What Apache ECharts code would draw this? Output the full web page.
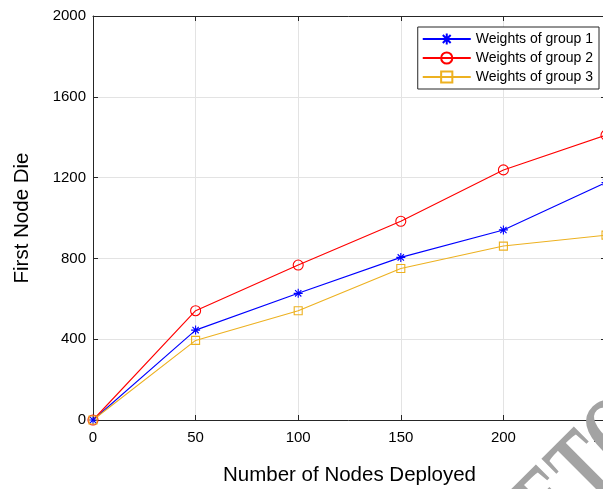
<!DOCTYPE html>
<html>
<head>
<meta charset="utf-8">
<script src="https://cdn.jsdelivr.net/npm/echarts@6/dist/echarts.min.js"></script>
<style>
  html, body { margin: 0; padding: 0; background: #fff; }
  #chart { width: 603px; height: 489px; }
</style>
</head>
<body>
<div id="chart"></div>
<script>
// Nodes deployed on the x axis
const nodesDeployed = [0, 50, 100, 150, 200, 250];
// First-node-die round for each weight group
const group1 = [0, 445, 627, 805, 941, 1176];
const group2 = [0, 541, 767, 984, 1238, 1410];
const group3 = [0, 394, 541, 750, 861, 915];
const seriesNames = ['Weights of group 1', 'Weights of group 2', 'Weights of group 3'];
const xTicks = [0, 50, 100, 150, 200, 250];
const yTicks = [0, 400, 800, 1200, 1600, 2000];
const stampText = 'ETO';

const axisColor = '#262626';
const gridColor = '#e3e3e3';
const font = 'Arial, "Liberation Sans", Helvetica, sans-serif';

// eight-spoke asterisk marker drawn as strokes
const asterisk = 'path://M5,0L5,10M0,5L10,5M1.5,1.5L8.5,8.5M1.5,8.5L8.5,1.5';

function pairs(vals) {
  return nodesDeployed.map((x, i) => [x, vals[i]]);
}

function lineSeries(name, vals, color, symbol, size) {
  return {
    name: name,
    type: 'line',
    data: pairs(vals),
    symbol: symbol,
    symbolSize: size,
    showAllSymbol: true,
    lineStyle: { color: color, width: 1.1 },
    itemStyle: { color: 'rgba(255,255,255,0)', borderColor: color, borderWidth: 1.1 },
    emphasis: { disabled: true },
    animation: false
  };
}

const chart = echarts.init(document.getElementById('chart'), null, { renderer: 'canvas' });

const common = {
  axisLine: { show: true, onZero: false, lineStyle: { color: axisColor, width: 1 } },
  axisTick: { show: true, inside: true, length: 5, lineStyle: { color: axisColor } }
};

chart.setOption({
  backgroundColor: '#fff',
  animation: false,
  grid: { left: 93, top: 16, width: 513, height: 404, containLabel: false, outerBoundsMode: 'none' },
  legend: {
    right: 4, top: 27,
    orient: 'vertical',
    data: seriesNames,
    itemWidth: 48, itemHeight: 14, itemGap: 5,
    padding: [5, 6, 5, 4],
    borderColor: '#262626', borderWidth: 1, backgroundColor: '#fff',
    textStyle: { fontFamily: font, fontSize: 14, color: '#000' }
  },
  xAxis: [{
    type: 'value', min: 0, max: 250, interval: 50, position: 'bottom',
    name: 'Number of Nodes Deployed', nameLocation: 'middle', nameGap: 45,
    nameTextStyle: { fontFamily: font, fontSize: 20.5, color: '#000' },
    axisLabel: {
      margin: 10, fontFamily: font, fontSize: 15, color: '#000',
      formatter: v => xTicks.includes(v) ? String(v) : ''
    },
    splitLine: { show: true, lineStyle: { color: gridColor, width: 1 } },
    ...common
  }, {
    type: 'value', min: 0, max: 250, interval: 50, position: 'top',
    axisLabel: { show: false }, splitLine: { show: false },
    ...common
  }],
  yAxis: [{
    type: 'value', min: 0, max: 2000, interval: 400, position: 'left',
    name: 'First Node Die', nameLocation: 'middle', nameGap: 60,
    nameTextStyle: { fontFamily: font, fontSize: 20.5, color: '#000' },
    axisLabel: {
      margin: 7, fontFamily: font, fontSize: 15, color: '#000',
      formatter: v => yTicks.includes(v) ? String(v) : ''
    },
    splitLine: { show: true, lineStyle: { color: gridColor, width: 1 } },
    ...common
  }, {
    type: 'value', min: 0, max: 2000, interval: 400, position: 'right',
    axisLabel: { show: false }, splitLine: { show: false },
    ...common
  }],
  // diagonal stamp lettering crossing the lower-right corner
  graphic: [{
    type: 'text',
    x: 539, y: 526,
    rotation: Math.PI / 4,
    scaleY: 1.6,
    z: 100,
    silent: true,
    style: {
      text: stampText,
      font: 'bold 72px "Liberation Serif"',
      fill: '#a3a3a3',
      align: 'left',
      verticalAlign: 'middle'
    }
  }],
  series: [
    lineSeries(seriesNames[0], group1, '#0000ff', asterisk, 9),
    lineSeries(seriesNames[1], group2, '#ff0000', 'circle', 10),
    lineSeries(seriesNames[2], group3, '#edb120', 'rect', 8)
  ]
});
</script>
</body>
</html>
